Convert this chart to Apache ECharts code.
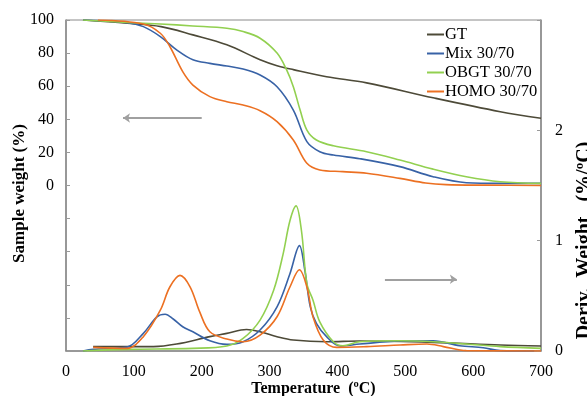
<!DOCTYPE html>
<html>
<head>
<meta charset="utf-8">
<script src="https://cdn.jsdelivr.net/npm/echarts@6/dist/echarts.min.js"></script>
<style>
  html, body { margin: 0; padding: 0; background: #fff; }
  #chart { width: 587px; height: 396px; }
</style>
</head>
<body>
<div id="chart"></div>
<script>
// series names
var seriesNames = ['GT', 'Mix 30/70', 'OBGT 30/70', 'HOMO 30/70'];
var seriesColors = ['#4d4a38', '#3862a6', '#92d050', '#ec7022'];

// TGA curves, sample weight (%) vs temperature
var gtTga = [[25,100],[90,98],[140,96],[187,91],[237,85],[286,76],[311,72.4],[335,70],[384,65.7],[443,62],[541,53],[640,44.6],[700,40.6]];
var mixTga = [[25,100],[90,98.4],[114,96],[139,90],[163,82],[187,76],[212,73.8],[237,72.2],[261,70.4],[286,66.8],[311,59.7],[335,45.6],[355,26.5],[374,20.4],[394,18.4],[433,16.2],[492,11.4],[541,5.3],[590,1.7],[640,1.3],[700,1.3]];
var obgtTga = [[25,100],[90,98.5],[139,97.6],[187,96.4],[237,95],[261,93],[286,89],[311,80],[325,70],[335,59.7],[345,45.6],[355,33.5],[369,27.5],[394,24],[443,20.4],[492,15.4],[541,9.9],[590,5.3],[640,2.3],[700,1.3]];
var homoTga = [[47,100],[114,97.6],[139,92],[153,84],[172,68.8],[187,60.7],[212,53.7],[237,50.6],[261,48.6],[286,45.2],[311,38.6],[335,27.5],[355,13.4],[374,9.4],[408,8.4],[443,7.4],[492,4.3],[530,1.5],[560,0.5],[620,0.2],[700,0]];

// DTG curves, deriv. weight (%/ºC) vs temperature
var gtDtg = [[40,0.04],[129,0.04],[163,0.063],[212,0.13],[237,0.16],[266,0.195],[286,0.174],[311,0.13],[335,0.1],[384,0.084],[433,0.09],[541,0.078],[640,0.054],[700,0.045]];
var mixDtg = [[25,0],[40,0.015],[90,0.035],[114,0.16],[134,0.31],[146,0.333],[158,0.29],[172,0.22],[187,0.174],[212,0.093],[237,0.06],[261,0.084],[286,0.19],[311,0.4],[330,0.7],[344,0.955],[352,0.73],[360,0.4],[369,0.25],[384,0.13],[404,0.045],[433,0.063],[492,0.09],[541,0.093],[580,0.048],[615,0.03],[640,0.003],[690,0]];
var obgtDtg = [[25,0],[90,0.015],[187,0.024],[237,0.045],[261,0.114],[286,0.28],[306,0.55],[320,0.88],[330,1.18],[339,1.315],[347,1.09],[355,0.61],[364,0.46],[374,0.264],[394,0.084],[408,0.048],[433,0.084],[492,0.093],[541,0.084],[590,0.063],[640,0.04],[700,0.024]];
var homoDtg = [[40,0.033],[90,0.024],[114,0.13],[139,0.37],[153,0.58],[168,0.685],[183,0.58],[197,0.354],[212,0.174],[237,0.108],[261,0.084],[286,0.144],[311,0.31],[330,0.58],[344,0.736],[355,0.58],[364,0.31],[379,0.1],[399,0.033],[443,0.04],[492,0.054],[532,0.063],[556,0.04],[590,0.003],[700,0]];

// arrows: [start, end] in data units
var leftArrow = [[200, 40.8], [84, 40.8]];
var rightArrow = [[470, 0.65], [576, 0.65]];

var serif = 'Liberation Serif';
var chart = echarts.init(document.getElementById('chart'));

function lineSeries(name, idx, data, yAxis, extra) {
	var s = {
		name: name,
		type: 'line',
		yAxisIndex: yAxis,
		data: data,
		smooth: 0.35,
		showSymbol: false,
		symbol: 'none',
		lineStyle: { color: seriesColors[idx], width: 1.6 },
		itemStyle: { color: seriesColors[idx] },
		z: 3
	};
	if (extra) s.markLine = extra;
	return s;
}

function arrowLine(pts) {
	return {
		silent: true,
		symbol: ['none', 'arrow'],
		symbolSize: 7,
		label: { show: false },
		lineStyle: { color: '#a0a0a0', width: 2, type: 'solid' },
		data: [[{ coord: pts[0] }, { coord: pts[1] }]]
	};
}

var option = {
	animation: false,
	grid: {
		left: 66, right: 46, top: 20, bottom: 45,
		outerBoundsMode: 'none', containLabel: false,
		show: true, borderColor: '#8a8a8a', borderWidth: 1
	},
	legend: {
		data: seriesNames,
		orient: 'vertical',
		left: 422,
		top: 21,
		icon: 'rect',
		itemWidth: 17,
		itemHeight: 2,
		itemGap: 2,
		textStyle: { fontFamily: serif, fontSize: 16.5, color: '#000', padding: [0, 0, 0, -4] }
	},
	xAxis: {
		type: 'value',
		min: 0, max: 700, interval: 100,
		name: 'Temperature  (ºC)',
		nameLocation: 'middle',
		nameGap: 30,
		nameMoveOverlap: false,
		nameTextStyle: { fontFamily: serif, fontSize: 16, fontWeight: 'bold', color: '#000', padding: [0, 0, 0, 20] },
		axisLine: { onZero: false, lineStyle: { color: '#8a8a8a', width: 1.5 } },
		axisTick: { show: false },
		splitLine: { show: false },
		axisLabel: { fontFamily: serif, fontSize: 16, color: '#000', margin: 13 }
	},
	yAxis: [{
		type: 'value',
		min: -100, max: 100, interval: 20,
		name: 'Sample weight (%)',
		nameLocation: 'middle',
		nameGap: 38,
		nameMoveOverlap: false,
		nameTextStyle: { fontFamily: serif, fontSize: 17, fontWeight: 'bold', color: '#000', padding: [0, 16, 0, 0] },
		axisLine: { show: true, onZero: false, lineStyle: { color: '#8a8a8a', width: 1.5 } },
		axisTick: { show: true, inside: true, length: 4, lineStyle: { color: '#9a9a9a' } },
		splitLine: { show: false },
		axisLabel: {
			fontFamily: serif, fontSize: 16, color: '#000', margin: 12,
			formatter: function (v) { return v >= 0 ? v : ''; }
		}
	}, {
		type: 'value',
		position: 'right',
		min: 0, max: 3, interval: 1,
		name: 'Deriv.  Weight   (%/ºC)',
		nameLocation: 'middle',
		nameGap: 34,
		nameRotate: 90,
		nameMoveOverlap: false,
		nameTextStyle: { fontFamily: serif, fontSize: 20, fontWeight: 'bold', color: '#000', padding: [0, 110, 0, 0] },
		axisLine: { show: true, onZero: false, lineStyle: { color: '#8a8a8a', width: 1.5 } },
		axisTick: { show: true, inside: true, length: 4, lineStyle: { color: '#9a9a9a' } },
		splitLine: { show: false },
		axisLabel: {
			fontFamily: serif, fontSize: 16, color: '#000', margin: 14,
			formatter: function (v) { return v < 3 ? v : ''; }
		}
	}],
	series: [
		lineSeries(seriesNames[0], 0, gtTga, 0, arrowLine(leftArrow)),
		lineSeries(seriesNames[1], 1, mixTga, 0),
		lineSeries(seriesNames[2], 2, obgtTga, 0),
		lineSeries(seriesNames[3], 3, homoTga, 0),
		lineSeries(seriesNames[0], 0, gtDtg, 1, arrowLine(rightArrow)),
		lineSeries(seriesNames[1], 1, mixDtg, 1),
		lineSeries(seriesNames[2], 2, obgtDtg, 1),
		lineSeries(seriesNames[3], 3, homoDtg, 1)
	]
};
chart.setOption(option);
</script>
</body>
</html>
